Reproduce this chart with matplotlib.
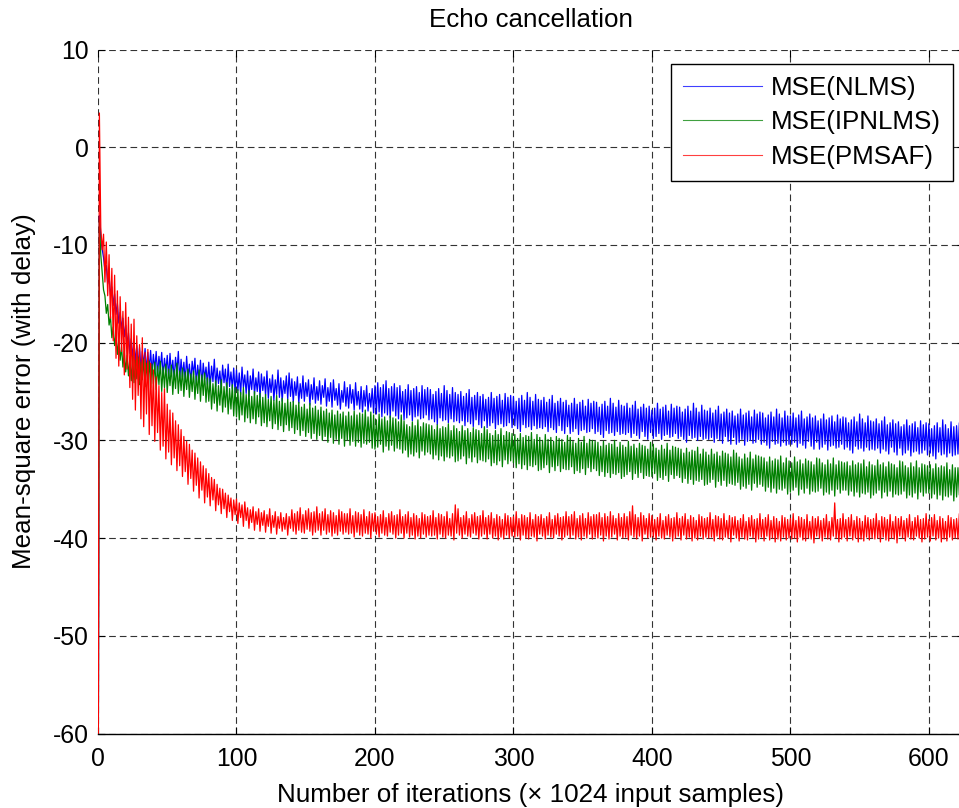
import numpy as np
import matplotlib
matplotlib.use("Agg")
import matplotlib.pyplot as plt

plt.rcParams['font.family'] = ['Liberation Sans', 'DejaVu Sans']
plt.rcParams['axes.unicode_minus'] = False

# Mean-square error per iteration (dB), one value per block of 1024 samples
mse_nlms = [
    -80, -7.0, -9.2, -10.4, -11.3, -12.6, -12.1, -14.0, -13.2, -15.1, -14.3, -16.2, -15.0, -17.1, -16.0, -18.0, -16.9, -18.6, -17.5, -19.4,
    -18.2, -20.3, -19.0, -21.1, -19.6, -21.5, -20.0, -22.0, -20.3, -22.4, -20.5, -22.6, -20.9, -22.3, -20.6, -22.9, -21.0, -22.7, -20.8, -23.1,
    -21.2, -22.8, -20.9, -23.3, -21.4, -22.7, -21.0, -23.4, -21.6, -23.0, -21.3, -23.6, -21.1, -23.2, -21.8, -23.7, -21.5, -23.1, -20.9, -23.8,
    -21.7, -23.5, -22.0, -24.0, -21.4, -23.6, -22.2, -24.1, -21.9, -23.3, -21.6, -24.2, -22.3, -23.9, -21.8, -24.4, -22.1, -23.7, -22.5, -24.3,
    -22.0, -24.6, -22.4, -24.0, -21.7, -24.5, -22.6, -24.2, -22.9, -24.8, -22.3, -24.1, -22.7, -25.0, -22.2, -24.5, -23.0, -24.7, -22.6, -25.1,
    -22.8, -24.9, -23.1, -25.3, -22.5, -24.6, -23.3, -25.2, -22.9, -25.5, -23.4, -24.8, -22.7, -25.3, -23.6, -25.0, -23.0, -25.6, -23.2, -24.9,
    -23.5, -25.4, -22.9, -25.7, -23.7, -25.1, -23.3, -25.9, -23.8, -25.3, -22.8, -25.6, -23.6, -26.0, -23.9, -25.2, -23.4, -25.8, -23.1, -25.5,
    -23.7, -26.1, -24.0, -25.4, -23.5, -26.2, -24.2, -25.7, -23.4, -26.0, -24.1, -25.5, -23.8, -26.4, -24.3, -25.8, -23.6, -26.2, -24.5, -25.9,
    -23.9, -26.3, -24.4, -25.6, -23.7, -26.5, -24.6, -26.0, -24.1, -26.6, -23.8, -25.9, -24.7, -26.4, -24.2, -26.8, -24.9, -26.1, -24.0, -26.5,
    -24.6, -26.7, -24.3, -26.2, -24.8, -26.9, -24.1, -26.4, -25.0, -26.8, -24.5, -27.1, -24.9, -26.5, -24.4, -27.0, -25.2, -26.6, -24.7, -27.2,
    -24.4, -27.3, -24.1, -27.1, -24.6, -27.6, -24.3, -27.2, -23.9, -27.4, -24.7, -27.7, -24.5, -27.0, -24.2, -27.5, -24.6, -27.8, -24.4, -27.1,
    -25.0, -27.9, -24.8, -27.7, -24.3, -27.4, -24.9, -28.0, -24.7, -27.6, -24.5, -27.5, -25.1, -27.8, -24.4, -27.7, -24.8, -27.4, -24.6, -27.9,
    -24.8, -27.8, -25.3, -28.1, -25.0, -28.4, -24.7, -27.7, -25.2, -28.0, -24.4, -27.9, -24.9, -28.2, -25.3, -27.8, -24.6, -28.1, -25.1, -28.0,
    -25.3, -28.2, -25.0, -28.0, -25.5, -28.5, -25.2, -28.1, -24.8, -28.3, -25.6, -28.6, -25.4, -27.9, -25.1, -28.4, -25.5, -28.7, -25.3, -28.0,
    -25.8, -28.7, -25.6, -28.5, -25.1, -28.2, -25.7, -28.8, -25.5, -28.4, -25.3, -28.3, -25.9, -28.6, -25.2, -28.5, -25.6, -28.2, -25.4, -28.7,
    -25.5, -28.5, -26.0, -28.8, -25.7, -29.1, -25.4, -28.4, -25.9, -28.7, -25.1, -28.6, -25.6, -28.9, -26.0, -28.5, -25.3, -28.8, -25.8, -28.7,
    -25.9, -28.8, -25.6, -28.6, -26.1, -29.1, -25.8, -28.7, -25.4, -28.9, -26.2, -29.2, -26.0, -28.5, -25.7, -29.0, -26.1, -29.3, -25.9, -28.6,
    -26.4, -29.3, -26.2, -29.1, -25.7, -28.8, -26.3, -29.4, -26.1, -29.0, -25.9, -28.9, -26.5, -29.2, -25.8, -29.1, -26.2, -28.8, -26.0, -29.3,
    -26.1, -29.1, -26.6, -29.4, -26.3, -29.7, -26.0, -29.0, -26.5, -29.3, -25.7, -29.2, -26.2, -29.5, -26.6, -29.1, -25.9, -29.4, -26.4, -29.3,
    -26.5, -29.4, -26.2, -29.2, -26.7, -29.7, -26.4, -29.3, -26.0, -29.5, -26.8, -29.8, -26.6, -29.1, -26.3, -29.6, -26.7, -29.9, -26.5, -29.2,
    -26.9, -29.8, -26.7, -29.6, -26.2, -29.3, -26.8, -29.9, -26.6, -29.5, -26.4, -29.4, -27.0, -29.7, -26.3, -29.6, -26.7, -29.3, -26.5, -29.8,
    -26.6, -29.6, -27.1, -29.9, -26.8, -30.2, -26.5, -29.5, -27.0, -29.8, -26.2, -29.7, -26.7, -30.0, -27.1, -29.6, -26.4, -29.9, -26.9, -29.8,
    -27.0, -29.9, -26.7, -29.7, -27.2, -30.2, -26.9, -29.8, -26.5, -30.0, -27.3, -30.3, -27.1, -29.6, -26.8, -30.1, -27.2, -30.4, -27.0, -29.7,
    -27.5, -30.4, -27.3, -30.2, -26.8, -29.9, -27.4, -30.5, -27.2, -30.1, -27.0, -30.0, -27.6, -30.3, -26.9, -30.2, -27.3, -29.9, -27.1, -30.4,
    -27.2, -30.2, -27.7, -30.5, -27.4, -30.8, -27.1, -30.1, -27.6, -30.4, -26.8, -30.3, -27.3, -30.6, -27.7, -30.2, -27.0, -30.5, -27.5, -30.4,
    -27.5, -30.4, -27.2, -30.2, -27.7, -30.7, -27.4, -30.3, -27.0, -30.5, -27.8, -30.8, -27.6, -30.1, -27.3, -30.6, -27.7, -30.9, -27.5, -30.2,
    -28.0, -30.9, -27.8, -30.7, -27.3, -30.4, -27.9, -31.0, -27.7, -30.6, -27.5, -30.5, -28.1, -30.8, -27.4, -30.7, -27.8, -30.4, -27.6, -30.9,
    -27.7, -30.7, -28.2, -31.0, -27.9, -31.3, -27.6, -30.6, -28.1, -30.9, -27.3, -30.8, -27.8, -31.1, -28.2, -30.7, -27.5, -31.0, -28.0, -30.9,
    -28.1, -31.0, -27.8, -30.8, -28.3, -31.3, -28.0, -30.9, -27.6, -31.1, -28.4, -31.4, -28.2, -30.7, -27.9, -31.2, -28.3, -31.5, -28.1, -30.8,
    -28.6, -31.5, -28.4, -31.3, -27.9, -31.0, -28.5, -31.6, -28.3, -31.2, -28.1, -31.1, -28.7, -31.4, -28.0, -31.3, -28.4, -31.0, -28.2, -31.5,
    -28.3, -31.3, -28.8, -31.6, -28.5, -31.9, -28.2, -31.2, -28.7, -31.5, -27.9, -31.4, -28.4, -31.7, -28.8, -31.3, -28.1, -31.6, -28.6, -31.5,
    -28.5, -31.4, -28.2, -31.2, -28.7, -31.7,
]

mse_ipnlms = [
    -80, -7.5, -11.0, -12.8, -14.6, -15.2, -17.0, -16.1, -18.2, -17.3, -19.5, -18.4, -20.3, -19.1, -21.2, -19.8, -21.8, -20.4, -22.5, -20.9,
    -23.0, -21.3, -23.4, -21.6, -23.9, -21.4, -24.1, -21.8, -23.7, -21.5, -24.3, -22.0, -23.8, -21.7, -24.5, -22.1, -24.0, -21.9, -24.6, -22.2,
    -24.2, -22.0, -24.8, -22.4, -24.3, -21.9, -25.0, -22.5, -24.6, -22.2, -25.1, -22.7, -24.4, -22.3, -25.3, -22.8, -24.7, -22.1, -25.2, -22.9,
    -24.9, -22.6, -25.5, -23.0, -24.8, -22.7, -25.6, -23.2, -25.0, -22.9, -25.8, -23.4, -25.2, -22.8, -26.0, -23.3, -25.4, -23.1, -26.1, -23.6,
    -26.0, -23.7, -26.8, -24.2, -26.2, -23.9, -27.0, -24.4, -26.4, -23.8, -27.1, -24.5, -26.6, -24.1, -27.3, -24.7, -26.8, -24.3, -27.5, -24.6,
    -27.6, -24.8, -27.9, -25.1, -27.4, -24.6, -28.1, -25.3, -27.7, -24.9, -28.2, -25.5, -27.8, -25.0, -28.3, -25.4, -27.6, -25.2, -28.5, -25.6,
    -28.2, -25.3, -28.6, -25.8, -28.0, -25.5, -28.8, -25.9, -28.3, -25.4, -28.9, -26.0, -28.5, -25.7, -29.1, -26.2, -28.4, -25.8, -29.0, -26.1,
    -28.7, -26.0, -29.3, -26.4, -28.9, -26.1, -29.5, -26.6, -29.0, -26.3, -29.6, -26.8, -29.2, -26.2, -29.8, -26.7, -29.3, -26.5, -29.9, -26.9,
    -29.5, -26.6, -30.0, -27.0, -29.6, -26.8, -30.2, -27.2, -29.7, -26.9, -30.3, -27.4, -29.9, -27.0, -30.4, -27.3, -29.8, -27.1, -30.6, -27.5,
    -30.0, -27.1, -30.5, -27.5, -30.1, -27.0, -30.6, -27.4, -30.2, -27.2, -30.7, -27.3, -30.3, -26.9, -30.4, -27.6, -30.2, -27.1, -30.8, -27.4,
    -30.9, -27.9, -30.7, -27.3, -30.4, -27.8, -31.2, -27.6, -30.6, -28.0, -31.0, -27.5, -30.5, -27.7, -31.1, -27.8, -30.8, -28.1, -30.9, -27.4,
    -31.3, -28.0, -31.0, -28.4, -31.7, -28.6, -31.4, -28.1, -31.6, -28.5, -31.2, -27.9, -31.8, -28.6, -31.1, -28.2, -31.5, -28.3, -31.2, -28.4,
    -31.4, -28.5, -31.9, -28.9, -31.5, -28.4, -32.0, -28.8, -31.6, -28.6, -32.1, -28.7, -31.7, -28.3, -31.8, -29.0, -31.6, -28.5, -32.2, -28.8,
    -32.1, -29.1, -31.9, -28.5, -31.6, -29.0, -32.4, -28.8, -31.8, -29.2, -32.2, -28.7, -31.7, -28.9, -32.3, -29.0, -32.0, -29.3, -32.1, -28.6,
    -32.2, -28.9, -31.9, -29.3, -32.6, -29.5, -32.3, -29.0, -32.5, -29.4, -32.1, -28.8, -32.7, -29.5, -32.0, -29.1, -32.4, -29.2, -32.1, -29.3,
    -32.3, -29.4, -32.8, -29.8, -32.4, -29.3, -32.9, -29.7, -32.5, -29.5, -33.0, -29.6, -32.6, -29.2, -32.7, -29.9, -32.5, -29.4, -33.1, -29.7,
    -33.0, -30.0, -32.8, -29.4, -32.5, -29.9, -33.3, -29.7, -32.7, -30.1, -33.1, -29.6, -32.6, -29.8, -33.2, -29.9, -32.9, -30.2, -33.0, -29.5,
    -33.0, -29.7, -32.7, -30.1, -33.4, -30.3, -33.1, -29.8, -33.3, -30.2, -32.9, -29.6, -33.5, -30.3, -32.8, -29.9, -33.2, -30.0, -32.9, -30.1,
    -33.1, -30.2, -33.6, -30.6, -33.2, -30.1, -33.7, -30.5, -33.3, -30.3, -33.8, -30.4, -33.4, -30.0, -33.5, -30.7, -33.3, -30.2, -33.9, -30.5,
    -33.7, -30.7, -33.5, -30.1, -33.2, -30.6, -34.0, -30.4, -33.4, -30.8, -33.8, -30.3, -33.3, -30.5, -33.9, -30.6, -33.6, -30.9, -33.7, -30.2,
    -33.7, -30.4, -33.4, -30.8, -34.1, -31.0, -33.8, -30.5, -34.0, -30.9, -33.6, -30.3, -34.2, -31.0, -33.5, -30.6, -33.9, -30.7, -33.6, -30.8,
    -33.8, -30.9, -34.3, -31.3, -33.9, -30.8, -34.4, -31.2, -34.0, -31.0, -34.5, -31.1, -34.1, -30.7, -34.2, -31.4, -34.0, -30.9, -34.6, -31.2,
    -34.5, -31.5, -34.3, -30.9, -34.0, -31.4, -34.8, -31.2, -34.2, -31.6, -34.6, -31.1, -34.1, -31.3, -34.7, -31.4, -34.4, -31.7, -34.5, -31.0,
    -34.6, -31.3, -34.3, -31.7, -35.0, -31.9, -34.7, -31.4, -34.9, -31.8, -34.5, -31.2, -35.1, -31.9, -34.4, -31.5, -34.8, -31.6, -34.5, -31.7,
    -34.7, -31.8, -35.2, -32.2, -34.8, -31.7, -35.3, -32.1, -34.9, -31.9, -35.4, -32.0, -35.0, -31.6, -35.1, -32.3, -34.9, -31.8, -35.5, -32.1,
    -35.3, -32.3, -35.1, -31.7, -34.8, -32.2, -35.6, -32.0, -35.0, -32.4, -35.4, -31.9, -34.9, -32.1, -35.5, -32.2, -35.2, -32.5, -35.3, -31.8,
    -35.2, -31.9, -34.9, -32.3, -35.6, -32.5, -35.3, -32.0, -35.5, -32.4, -35.1, -31.8, -35.7, -32.5, -35.0, -32.1, -35.4, -32.2, -35.1, -32.3,
    -35.1, -32.2, -35.6, -32.6, -35.2, -32.1, -35.7, -32.5, -35.3, -32.3, -35.8, -32.4, -35.4, -32.0, -35.5, -32.7, -35.3, -32.2, -35.9, -32.5,
    -35.6, -32.6, -35.4, -32.0, -35.1, -32.5, -35.9, -32.3, -35.3, -32.7, -35.7, -32.2, -35.2, -32.4, -35.8, -32.5, -35.5, -32.8, -35.6, -32.1,
    -35.5, -32.2, -35.2, -32.6, -35.9, -32.8, -35.6, -32.3, -35.8, -32.7, -35.4, -32.1, -36.0, -32.8, -35.3, -32.4, -35.7, -32.5, -35.4, -32.6,
    -35.4, -32.5, -35.9, -32.9, -35.5, -32.4, -36.0, -32.8, -35.6, -32.6, -36.1, -32.7, -35.7, -32.3, -35.8, -33.0, -35.6, -32.5, -36.2, -32.8,
    -35.8, -32.8, -35.6, -32.2, -35.3, -32.7,
]

mse_pmsaf = [
    -80, 3.5, -8.2, -10.5, -8.9, -13.8, -9.7, -15.2, -11.0, -17.5, -12.4, -19.8, -13.1, -21.6, -14.7, -22.4, -15.3, -20.9, -16.8, -23.3,
    -15.9, -22.7, -17.4, -24.6, -18.1, -25.8, -17.6, -26.9, -19.3, -25.4, -20.2, -27.8, -19.5, -28.6, -21.0, -27.3, -20.7, -29.4, -22.1, -28.5,
    -22.8, -30.1, -23.5, -29.2, -24.4, -31.0, -25.1, -30.6, -24.7, -31.9, -26.3, -31.2, -26.9, -32.5, -27.2, -31.8, -28.0, -33.1, -28.4, -32.6,
    -28.9, -33.7, -29.6, -33.2, -30.1, -34.5, -30.4, -33.9, -31.0, -35.2, -31.3, -34.6, -31.8, -35.9, -32.2, -35.1, -32.6, -36.4, -32.9, -35.8,
    -33.4, -36.7, -33.8, -36.1, -34.0, -37.2, -34.5, -36.6, -34.9, -37.5, -35.0, -37.0, -35.4, -37.9, -35.6, -37.3, -35.9, -38.2, -36.1, -37.6,
    -36.0, -38.5, -36.4, -37.9, -36.6, -38.8, -36.3, -38.2, -36.9, -39.0, -37.1, -38.4, -36.8, -39.2, -37.3, -38.6, -37.0, -39.3, -37.4, -38.7,
    -37.2, -39.4, -37.6, -38.8, -37.0, -39.5, -37.7, -38.9, -37.3, -39.6, -37.8, -39.0, -37.4, -39.3, -37.9, -39.1, -37.5, -39.7, -37.8, -39.0,
    -37.1, -39.3, -37.5, -39.6, -37.3, -39.2, -36.9, -39.4, -37.6, -39.5, -37.2, -39.1, -37.0, -39.3, -37.4, -39.7, -37.3, -39.4, -36.8, -39.2,
    -37.5, -39.7, -37.3, -39.2, -37.0, -39.6, -37.6, -39.4, -37.2, -39.8, -37.4, -39.5, -37.7, -39.7, -37.1, -39.3, -37.3, -39.6, -37.5, -39.4,
    -37.5, -39.6, -37.0, -39.5, -37.7, -39.9, -37.3, -39.4, -37.4, -39.7, -37.6, -39.8, -37.1, -39.5, -37.8, -39.6, -37.3, -40.0, -37.5, -39.3,
    -37.4, -39.6, -37.8, -39.9, -37.6, -39.5, -37.2, -39.7, -37.9, -39.8, -37.5, -39.4, -37.3, -39.6, -37.7, -40.0, -37.6, -39.7, -37.1, -39.5,
    -37.8, -40.0, -37.6, -39.5, -37.3, -39.9, -37.9, -39.7, -37.5, -40.1, -37.7, -39.8, -38.0, -40.0, -37.4, -39.6, -37.6, -39.9, -37.8, -39.7,
    -37.7, -39.8, -37.2, -39.7, -37.9, -40.1, -37.5, -39.6, -37.6, -39.9, -37.8, -40.0, -37.3, -39.7, -38.0, -39.8, -37.5, -40.2, -36.6, -39.5,
    -37.0, -39.7, -37.9, -40.0, -37.7, -39.6, -37.3, -39.8, -38.0, -39.9, -37.6, -39.5, -37.4, -39.7, -37.8, -40.1, -37.7, -39.8, -37.2, -39.6,
    -37.9, -40.1, -37.7, -39.6, -37.4, -40.0, -38.0, -39.8, -37.6, -40.2, -37.8, -39.9, -38.1, -40.1, -37.5, -39.7, -37.7, -40.0, -37.9, -39.8,
    -37.8, -39.9, -37.3, -39.8, -38.0, -40.2, -37.6, -39.7, -37.7, -40.0, -37.9, -40.1, -37.4, -39.8, -38.1, -39.9, -37.6, -40.3, -37.8, -39.6,
    -37.6, -39.8, -38.0, -40.1, -37.8, -39.7, -37.4, -39.9, -38.1, -40.0, -37.7, -39.6, -37.5, -39.8, -37.9, -40.2, -37.8, -39.9, -37.3, -39.7,
    -37.8, -40.0, -37.6, -39.7, -37.3, -40.1, -38.0, -39.9, -37.7, -40.2, -37.5, -39.8, -38.0, -40.0, -37.4, -39.6, -37.8, -40.1, -37.6, -39.9,
    -37.6, -40.0, -37.4, -39.7, -37.9, -40.3, -37.5, -39.8, -37.8, -40.1, -37.3, -39.9, -37.7, -39.6, -38.0, -40.2, -37.5, -39.8, -37.9, -40.0,
    -37.5, -39.9, -37.8, -40.2, -37.3, -39.7, -36.7, -39.9, -37.6, -40.1, -37.9, -39.8, -37.4, -40.3, -37.7, -39.6, -38.0, -40.0, -37.5, -39.9,
    -37.7, -39.9, -38.1, -40.2, -37.9, -39.8, -37.5, -40.0, -38.2, -40.1, -37.8, -39.7, -37.6, -39.9, -38.0, -40.3, -37.9, -40.0, -37.4, -39.8,
    -38.0, -40.2, -37.8, -39.7, -37.5, -40.1, -38.1, -39.9, -37.7, -40.3, -37.9, -40.0, -38.2, -40.2, -37.6, -39.8, -37.8, -40.1, -38.0, -39.9,
    -37.9, -40.0, -37.4, -39.9, -38.1, -40.3, -37.7, -39.8, -37.8, -40.1, -38.0, -40.2, -37.5, -39.9, -38.2, -40.0, -37.7, -40.4, -37.9, -39.7,
    -37.8, -40.0, -38.2, -40.3, -38.0, -39.9, -37.6, -40.1, -38.3, -40.2, -37.9, -39.8, -37.7, -40.0, -38.1, -40.4, -38.0, -40.1, -37.5, -39.9,
    -38.1, -40.3, -37.9, -39.8, -37.6, -40.2, -38.2, -40.0, -37.8, -40.4, -38.0, -40.1, -38.3, -40.3, -37.7, -39.9, -37.9, -40.2, -38.1, -40.0,
    -38.0, -40.1, -37.5, -40.0, -38.2, -40.4, -37.8, -39.9, -37.9, -40.2, -38.1, -40.3, -37.6, -40.0, -38.3, -40.1, -37.8, -40.5, -38.0, -39.8,
    -37.8, -40.0, -38.2, -40.3, -38.0, -39.9, -37.6, -40.1, -38.3, -40.2, -37.9, -39.8, -36.4, -40.0, -38.1, -40.4, -38.0, -40.1, -37.5, -39.9,
    -38.1, -40.3, -37.9, -39.8, -37.6, -40.2, -38.2, -40.0, -37.8, -40.4, -38.0, -40.1, -38.3, -40.3, -37.7, -39.9, -37.9, -40.2, -38.1, -40.0,
    -38.0, -40.1, -37.5, -40.0, -38.2, -40.4, -37.8, -39.9, -37.9, -40.2, -38.1, -40.3, -37.6, -40.0, -38.3, -40.1, -37.8, -40.5, -38.0, -39.8,
    -37.8, -40.0, -38.2, -40.3, -38.0, -39.9, -37.6, -40.1, -38.3, -40.2, -37.9, -39.8, -37.7, -40.0, -38.1, -40.4, -38.0, -40.1, -37.5, -39.9,
    -38.1, -40.3, -37.9, -39.8, -37.6, -40.2, -38.2, -40.0, -37.8, -40.4, -38.0, -40.1, -38.3, -40.3, -37.7, -39.9, -37.9, -40.2, -38.1, -40.0,
    -38.0, -40.1, -37.5, -40.0, -38.2, -40.4,
]

series_labels = ['MSE(NLMS)', 'MSE(IPNLMS)', 'MSE(PMSAF)']
series_colors = ['#0000ff', '#008000', '#ff0000']
x_ticks = [0, 100, 200, 300, 400, 500, 600]
y_ticks = [-60, -50, -40, -30, -20, -10, 0, 10]

W, H = 959, 808
fig = plt.figure(figsize=(W / 100, H / 100), dpi=100)
ax_left, ax_right, ax_top, ax_bottom = 98, 963.5, 49.5, 733.5
ax = fig.add_axes([ax_left / W, 1 - ax_bottom / H,
                   (ax_right - ax_left) / W, (ax_bottom - ax_top) / H])

for vals, lab, col in zip([mse_nlms, mse_ipnlms, mse_pmsaf], series_labels, series_colors):
    ax.plot(np.arange(len(vals)), vals, color=col, lw=0.9, label=lab)

ax.set_xlim(0, 625)
ax.set_ylim(-60, 10)
ax.set_xticks(x_ticks)
ax.set_yticks(y_ticks)

fs_tick = 17.8
fs_text = 18.7
ax.tick_params(direction='in', length=5, width=0.8, top=True, right=True,
               labelsize=fs_tick, colors='black')
ax.tick_params(axis='y', pad=6.5)
ax.tick_params(axis='x', pad=9.5)

for side in ['left', 'top', 'right']:
    ax.spines[side].set_visible(False)
ax.spines['bottom'].set_linewidth(1.0)
ax.spines['bottom'].set_color('black')

ax.grid(True, color='#333333', linestyle=(0, (6, 3.6)), linewidth=0.8)
ax.set_axisbelow(True)

ax.set_title('Echo cancellation', fontsize=fs_text, pad=16)
ax.set_xlabel('Number of iterations (\u00d7 1024 input samples)', fontsize=fs_text, labelpad=9)
ax.set_ylabel('Mean-square error (with delay)', fontsize=fs_text, labelpad=12)

leg = ax.legend(loc='upper right', bbox_to_anchor=(0.9879, 0.9788), borderaxespad=0,
                fontsize=fs_text, fancybox=False, shadow=False, framealpha=1,
                edgecolor='black', handlelength=3.05, handletextpad=0.35,
                labelspacing=0.41, borderpad=0.45)
leg.get_frame().set_linewidth(1.0)
for ln in leg.get_lines():
    ln.set_linewidth(0.8)
    ln.set_alpha(0.75)

fig.savefig('out.png', dpi=100)
